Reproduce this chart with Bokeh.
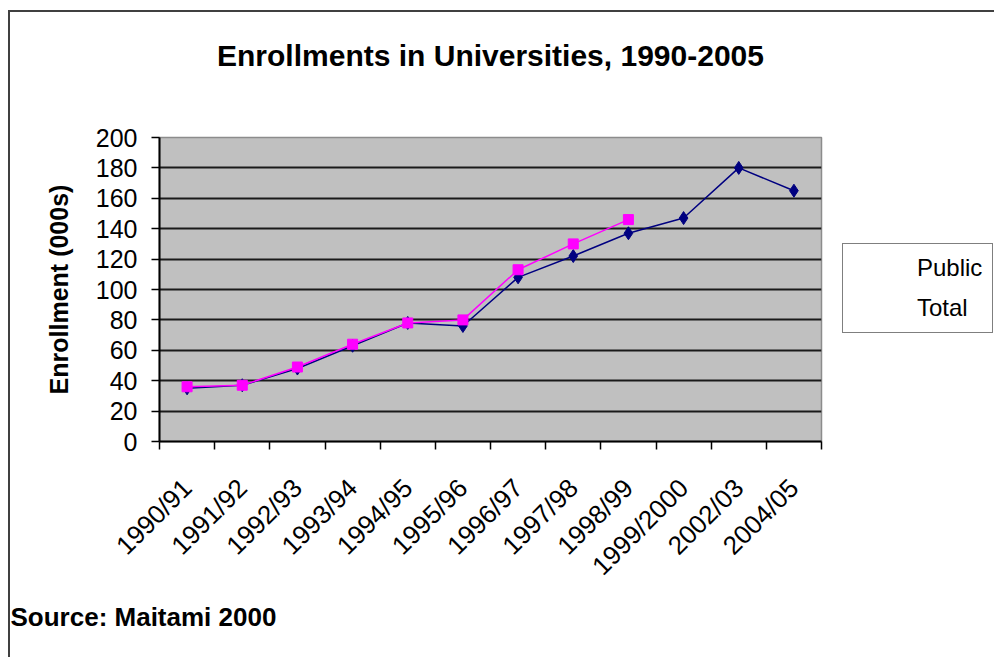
import math
from bokeh.plotting import figure
from bokeh.layouts import row
from bokeh.models import (FactorRange, Range1d, LinearAxis, CategoricalAxis, FixedTicker,
                          Legend, LegendItem, Title, CustomJSTickFormatter)
from bokeh.embed import file_html
from bokeh.resources import INLINE

categories = ["1990/91", "1991/92", "1992/93", "1993/94", "1994/95", "1995/96",
              "1996/97", "1997/98", "1998/99", "1999/2000", "2002/03", "2004/05"]
public = [35, 37, 48, 63, 78, 76, 108, 122, 137, 147, 180, 165]
total = [36, 37, 49, 64, 78, 80, 113, 130, 146]
y_ticks = [0, 20, 40, 60, 80, 100, 120, 140, 160, 180, 200]

FONT = "Liberation Sans"
PUBLIC_COLOR = "#000080"
TOTAL_COLOR = "#ff00ff"
FRAME_CSS = "linear-gradient(#404040,#404040) 0 10px / 100% 2px no-repeat, white"

# ---------------- main chart ----------------
p = figure(width=830, height=657, x_range=FactorRange(*categories), y_range=Range1d(0, 200),
           output_backend="svg", toolbar_location=None, x_axis_location=None,
           min_border_left=159, min_border_right=9, min_border_top=137, min_border_bottom=216)
p.background_fill_color = "#c0c0c0"
p.border_fill_color = "white"
p.border_fill_alpha = 0
p.outline_line_color = "#8c8c8c"
p.outline_line_width = 1.5
p.styles = {
    "background": "linear-gradient(#404040,#404040) 8px 10px / 2px 100% no-repeat,"
                  " linear-gradient(#404040,#404040) 8px 10px / 100% 2px no-repeat, white"
}

# chart title (as the label of an empty top axis)
title_axis = LinearAxis(ticker=FixedTicker(ticks=[]), axis_line_color=None,
                        major_tick_line_color=None, minor_tick_line_color=None,
                        axis_label="Enrollments in Universities, 1990-2005",
                        axis_label_text_font=FONT, axis_label_text_font_size="30px",
                        axis_label_text_font_style="bold", axis_label_text_color="black",
                        axis_label_standoff=66)
p.add_layout(title_axis, "above")

# bottom axis with tick marks at the category boundaries (synthetic coordinates 0..N)
tick_axis = LinearAxis(ticker=FixedTicker(ticks=list(range(len(categories) + 1))),
                       formatter=CustomJSTickFormatter(code="return ''"),
                       major_tick_out=8, major_tick_in=0, minor_tick_out=0, minor_tick_in=0,
                       axis_line_color="black", axis_line_width=2, major_tick_line_color="black",
                       major_tick_line_width=1.5, major_label_standoff=0, major_label_text_font_size="1px")
p.add_layout(tick_axis, "below")
cat_axis = CategoricalAxis(axis_line_color=None, major_tick_line_color=None,
                           major_label_orientation=math.pi / 4, major_label_standoff=28,
                           major_label_text_font_size="26px", major_label_text_font=FONT,
                           major_label_text_color="black")
p.add_layout(cat_axis, "below")

p.add_layout(Title(text="Source: Maitami 2000", align="left", offset=-149,
                   text_font=FONT, text_font_size="26px", text_font_style="bold",
                   text_color="black"), "below")

ya = p.yaxis[0]
ya.ticker = FixedTicker(ticks=y_ticks)
ya.major_tick_out = 8
ya.major_tick_in = 0
ya.minor_tick_out = 0
ya.minor_tick_in = 0
ya.axis_line_color = "black"
ya.axis_line_width = 2
ya.major_tick_line_color = "black"
ya.major_tick_line_width = 1.5
ya.major_label_standoff = 14
ya.major_label_text_font_size = "25px"
ya.major_label_text_font = FONT
ya.major_label_text_color = "black"
ya.axis_label = "Enrollment (000s)"
ya.axis_label_text_font = FONT
ya.axis_label_text_font_size = "25px"
ya.axis_label_text_font_style = "bold"
ya.axis_label_text_color = "black"
ya.axis_label_standoff = 20

p.ygrid.ticker = FixedTicker(ticks=y_ticks[1:-1])
p.ygrid.grid_line_color = "#1a1a1a"
p.ygrid.grid_line_width = 2
p.xgrid.visible = False

p.line(categories, public, line_color=PUBLIC_COLOR, line_width=1.5)
p.scatter(categories, public, marker="diamond", size=13, color=PUBLIC_COLOR)
p.line(categories[:len(total)], total, line_color=TOTAL_COLOR, line_width=1.5)
p.scatter(categories[:len(total)], total, marker="square", size=10, color=TOTAL_COLOR)

# ---------------- legend panel (right of the chart) ----------------
q = figure(width=164, height=657, x_range=Range1d(0, 1), y_range=Range1d(0, 1),
           output_backend="svg", toolbar_location=None, x_axis_location=None,
           y_axis_location=None, min_border=0)
q.grid.visible = False
q.outline_line_color = None
q.background_fill_alpha = 0
q.border_fill_alpha = 0
q.styles = {"background": FRAME_CSS}

lp_line = q.line([], [], line_color=PUBLIC_COLOR, line_width=1.5)
lp_pts = q.scatter([], [], marker="diamond", size=13, color=PUBLIC_COLOR)
lt_line = q.line([], [], line_color=TOTAL_COLOR, line_width=1.5)
lt_pts = q.scatter([], [], marker="square", size=10, color=TOTAL_COLOR)

legend = Legend(items=[LegendItem(label="Public", renderers=[lp_line, lp_pts]),
                       LegendItem(label="Total", renderers=[lt_line, lt_pts])],
                location=(12, 108), glyph_width=54, glyph_height=22, label_standoff=10,
                padding=10, spacing=12, margin=0, border_line_color="black", border_line_width=1.5,
                label_text_font_size="24px", label_text_font=FONT, label_text_color="black",
                background_fill_color="white", background_fill_alpha=1)
q.add_layout(legend)

layout = row(p, q, spacing=0)
open("out.html", "w").write(file_html(layout, INLINE))
